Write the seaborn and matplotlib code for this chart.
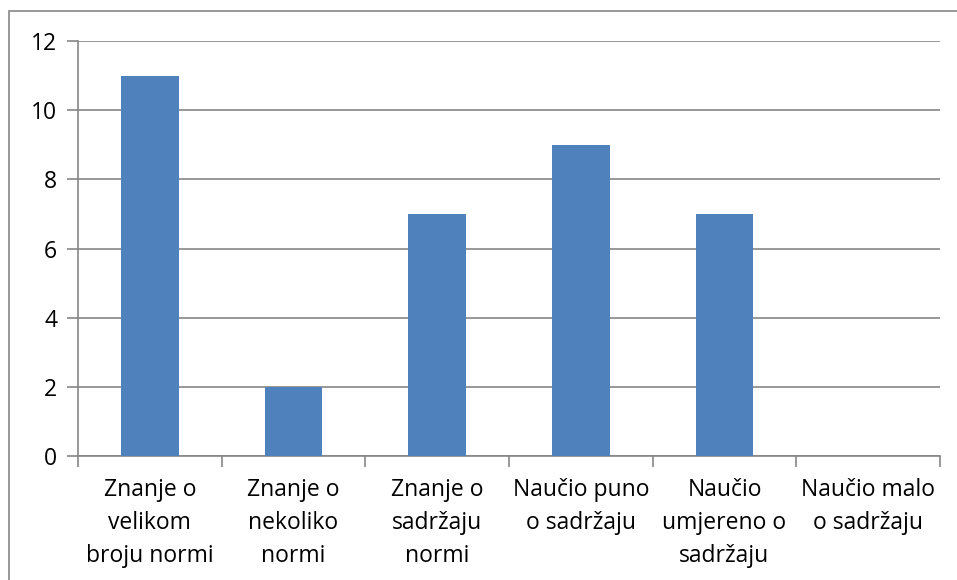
import matplotlib
matplotlib.use("Agg")
import matplotlib.pyplot as plt
import seaborn as sns
import pandas as pd
from matplotlib.patches import Rectangle

categories = ["Znanje o\nvelikom\nbroju normi", "Znanje o\nnekoliko\nnormi",
              "Znanje o\nsadržaju\nnormi", "Naučio puno\no sadržaju",
              "Naučio\numjereno o\nsadržaju", "Naučio malo\no sadržaju"]
values = [11, 2, 7, 9, 7, 0]
yticks = [0, 2, 4, 6, 8, 10, 12]

df = pd.DataFrame({"cat": categories, "val": values})

sns.set_style("white")
plt.rcParams["font.family"] = ["Open Sans", "DejaVu Sans"]

W, H = 957, 580
fig = plt.figure(figsize=(W / 100, H / 100), dpi=100)
ax = fig.add_axes([78 / W, 1 - 456 / H, (940 - 78) / W, (456 - 41) / H])

sns.barplot(data=df, x="cat", y="val", color="#4F81BD", saturation=1,
            width=0.4, linewidth=0, ax=ax, zorder=3)

ax.set_ylim(0, 12)
ax.set_xlim(-0.5, len(categories) - 0.5)
ax.set_yticks(yticks)
ax.set_yticklabels([str(v) for v in yticks], fontsize=16.5, color="black")
ax.yaxis.grid(True, color="#868686", linewidth=1.2, zorder=0)
ax.set_axisbelow(True)

ax.set_xticks([i - 0.5 for i in range(len(categories) + 1)], minor=False)
ax.set_xticklabels([])
ax.set_xticks(range(len(categories)), minor=True)
ax.set_xticklabels(categories, minor=True, fontsize=16.5, linespacing=1.5,
                   va="top", color="black")
ax.tick_params(axis="x", which="minor", length=0, pad=16)
ax.tick_params(axis="x", which="major", length=8, width=1.2,
               color="#868686", direction="out", bottom=True)
ax.tick_params(axis="y", length=8, width=1.2, color="#868686",
               direction="out", left=True, pad=7)
ax.set_xlabel("")
ax.set_ylabel("")

for s in ["top", "right"]:
    ax.spines[s].set_visible(False)
for s in ["left", "bottom"]:
    ax.spines[s].set_color("#868686")
    ax.spines[s].set_linewidth(1.2)

fig.patches.append(Rectangle((9 / W, -0.1), 1.2, 1 - 11 / H + 0.1,
                             transform=fig.transFigure, fill=False,
                             edgecolor="#868686", linewidth=1.2))

fig.savefig("out.png", dpi=100)
